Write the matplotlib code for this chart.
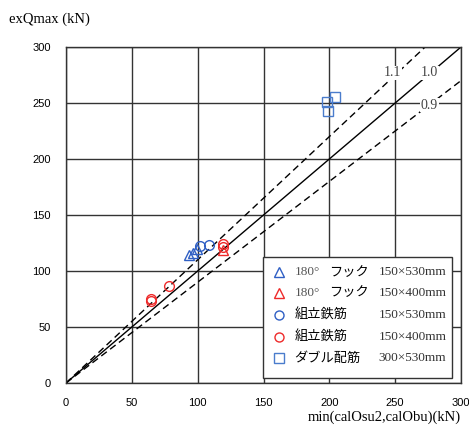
import matplotlib.pyplot as plt
from matplotlib.patches import Rectangle
import numpy as np

# calculated capacity (x) vs. measured max shear (y), kN
hook530_x = [93.6, 96.7, 99.7]
hook530_y = [114.5, 116.0, 120.0]
hook400_x = [119.5]
hook400_y = [118.5]
tie530_x = [101.7, 108.8]
tie530_y = [122.0, 123.5]
tie400_x = [64.3, 64.3, 78.2, 119.5, 119.5]
tie400_y = [75.0, 72.8, 86.6, 124.4, 121.4]
double530_x = [198.5, 198.8, 204.0]
double530_y = [251.0, 243.0, 255.0]

ratios = [1.1, 1.0, 0.9]
ratio_labels = ["1.1", "1.0", "0.9"]

prefixes = ["180°", "180°", "", "", ""]
names = ["フック", "フック", "組立鉄筋", "組立鉄筋", "ダブル配筋"]
sizes = ["150×530mm", "150×400mm", "150×530mm", "150×400mm", "300×530mm"]

blue = "#2f5fc4"
red = "#ee2a2a"
sqblue = "#4a7ccc"

serif = ["Liberation Serif", "DejaVu Serif"]
jp = ["Noto Sans CJK JP", "DejaVu Sans"]

fig = plt.figure(figsize=(4.69, 4.30), dpi=100)
ax = fig.add_axes([0.1407, 0.1093, 0.8423, 0.7814])

# reference lines y = k * x
xs = np.array([0, 300])
for k, lab, lx, ly in zip(ratios, ratio_labels, [248, 276, 276], [277, 277, 248]):
    ls = "-" if k == 1.0 else (0, (5, 3))
    ax.plot(xs, k * xs, color="black", lw=1.0, ls=ls, zorder=2)
    ax.text(lx, ly, lab, fontsize=10, family=serif, color="#444444",
            ha="center", va="center", zorder=3,
            bbox=dict(facecolor="white", edgecolor="none", pad=0.5))

mk = dict(ls="none", markerfacecolor="none", markeredgewidth=1.0, zorder=4)
ax.plot(hook530_x, hook530_y, marker="^", markersize=7, markeredgecolor=blue, **mk)
ax.plot(hook400_x, hook400_y, marker="^", markersize=7, markeredgecolor=red, **mk)
ax.plot(tie530_x, tie530_y, marker="o", markersize=7, markeredgecolor=blue, **mk)
ax.plot(tie400_x, tie400_y, marker="o", markersize=7, markeredgecolor=red, **mk)
ax.plot(double530_x, double530_y, marker="s", markersize=7, markeredgecolor=sqblue, **mk)

ax.set_xlim(0, 300)
ax.set_ylim(0, 300)
ax.set_xticks(range(0, 301, 50))
ax.set_yticks(range(0, 301, 50))
ax.tick_params(direction="in", length=0, labelsize=8)
ax.tick_params(axis="x", pad=11)
ax.tick_params(axis="y", pad=11)
for t in ax.get_xticklabels() + ax.get_yticklabels():
    t.set_family(["Liberation Sans", "DejaVu Sans"])
ax.grid(True, color="#333333", lw=1.0)
ax.set_axisbelow(True)
for s in ax.spines.values():
    s.set_color("#333333")
    s.set_linewidth(1.0)

fig.text(0.02, 0.955, "exQmax (kN)", fontsize=10.5, family=serif, ha="left", va="center")
fig.text(0.983, 0.015, "min(calOsu2,calObu)(kN)", fontsize=10.5, family=serif,
         ha="right", va="bottom")

# legend box
ax.add_patch(Rectangle((0.499, 0.015), 0.478, 0.36, transform=ax.transAxes,
                       facecolor="white", edgecolor="#333333", lw=1.0, zorder=5))
rows_y = [0.330, 0.268, 0.202, 0.137, 0.074]
styles = [("^", blue), ("^", red), ("o", blue), ("o", red), ("s", sqblue)]
for ry, (m, c), pre, nm, sz in zip(rows_y, styles, prefixes, names, sizes):
    ax.plot([0.539], [ry], transform=ax.transAxes, marker=m, markersize=6.5,
            markerfacecolor="none", markeredgecolor=c, markeredgewidth=1.0,
            ls="none", zorder=6, clip_on=False)
    if pre:
        ax.text(0.580, ry, pre, transform=ax.transAxes, fontsize=9.5, family=serif,
                ha="left", va="center", zorder=6, color="#555555")
        ax.text(0.665, ry, nm, transform=ax.transAxes, fontsize=9.5, family=jp,
                ha="left", va="center", zorder=6)
    else:
        ax.text(0.578, ry, nm, transform=ax.transAxes, fontsize=9.5, family=jp,
                ha="left", va="center", zorder=6)
    ax.text(0.792, ry, sz, transform=ax.transAxes, fontsize=9.5, family=serif,
            ha="left", va="center", zorder=6, color="#333333")

fig.savefig("out.png", dpi=100)
